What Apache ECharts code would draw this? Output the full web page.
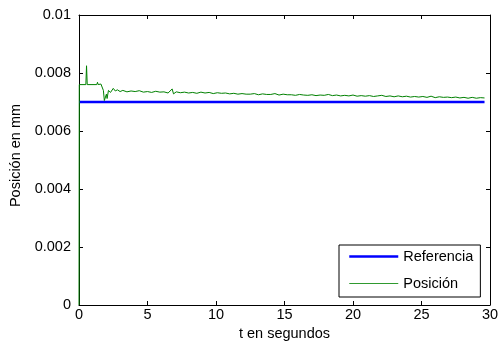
<!DOCTYPE html>
<html>
<head>
<meta charset="utf-8">
<script src="https://cdn.jsdelivr.net/npm/echarts@6/dist/echarts.min.js"></script>
<style>
  html, body { margin: 0; padding: 0; background: #fff; }
  #chart { width: 503px; height: 347px; }
</style>
</head>
<body>
<div id="chart"></div>
<script>
// referencia: constante
const refTimes = [0, 29.6];
const refValues = [0.007, 0.007];

const posTimes = [
  0, 0.02, 0.5, 0.55, 0.6, 1.3, 1.35, 1.4, 1.6, 1.7, 1.78, 1.85, 1.9, 1.95,
  2.0, 2.05, 2.15, 2.3, 2.5, 2.65, 2.8, 3.0,
  3.2, 3.5, 3.8, 4.1, 4.4, 4.7, 5.0, 5.3, 5.6, 5.9, 6.2, 6.5, 6.8, 6.9,
  7.1, 7.4, 7.7, 8.0, 8.3, 8.6, 8.9, 9.2, 9.5, 9.8, 10.1, 10.4, 10.7, 11.0,
  11.3, 11.6, 11.9, 12.2, 12.5, 12.8, 13.1, 13.4, 13.7, 14.0, 14.3, 14.6,
  14.9, 15.2, 15.5, 15.8, 16.1, 16.4, 16.7, 17.0, 17.3, 17.6, 17.9, 18.2,
  18.5, 18.8, 19.1, 19.4, 19.7, 20.0, 20.3, 20.6, 20.9, 21.2, 21.5, 21.8,
  22.1, 22.4, 22.7, 23.0, 23.3, 23.6, 23.9, 24.2, 24.5, 24.8, 25.1, 25.4,
  25.7, 26.0, 26.3, 26.6, 26.9, 27.2, 27.5, 27.8, 28.1, 28.4, 28.7, 29.0,
  29.3, 29.6
];
const posValues = [
  0, 0.0076, 0.0076, 0.00825, 0.0076, 0.0076, 0.00768, 0.0076, 0.00762, 0.0076, 0.0074, 0.00705, 0.00701, 0.0071,
  0.00727, 0.00712, 0.0074, 0.00733, 0.00747, 0.00738, 0.00742, 0.00736,
  0.0074, 0.00735, 0.00738, 0.00736, 0.00739, 0.00734, 0.00736, 0.00733, 0.00737, 0.00734, 0.00735, 0.00731, 0.00745, 0.00728,
  0.00735, 0.00732, 0.00734, 0.00731, 0.00733, 0.0073, 0.00734, 0.00731, 0.00733, 0.00729, 0.00732, 0.0073, 0.00731, 0.00728,
  0.0073, 0.00727, 0.00729, 0.00727, 0.00727, 0.00729, 0.00725, 0.00728, 0.00726, 0.00726, 0.00729, 0.00724,
  0.00727, 0.00725, 0.00725, 0.00723, 0.00726, 0.00724, 0.00723, 0.00725, 0.00722, 0.00724, 0.00723, 0.00726,
  0.00722, 0.00724, 0.00721, 0.00723, 0.00721, 0.00724, 0.0072, 0.00722, 0.0072, 0.00722, 0.00719, 0.00721,
  0.00723, 0.00719, 0.00721, 0.00718, 0.00721, 0.00718, 0.0072, 0.00717, 0.00719, 0.00717, 0.00719, 0.00716,
  0.0072, 0.00715, 0.00718, 0.00716, 0.00717, 0.00715, 0.00717, 0.00714, 0.00716, 0.00713, 0.00716, 0.00713,
  0.00715, 0.00714
];

const xTicks = [0, 5, 10, 15, 20, 25, 30];
const yTicks = [0, 0.002, 0.004, 0.006, 0.008, 0.01];

const font = 'Liberation Sans, Arial, sans-serif';
const fs = 14.5;

function pairs(xs, ys) {
  return xs.map((x, i) => [x, ys[i]]);
}

const chart = echarts.init(document.getElementById('chart'), null, { renderer: 'canvas' });

const boxAxis = {
  show: true,
  axisLine: { show: true, onZero: false, lineStyle: { color: '#000', width: 1 } },
  axisTick: { show: true, inside: true, length: 4, lineStyle: { color: '#000' } },
  axisLabel: { show: false },
  splitLine: { show: false }
};

const option = {
  backgroundColor: '#fff',
  animation: false,
  grid: { left: 79, right: 13, top: 15, bottom: 42 },
  legend: {
    orient: 'vertical',
    left: 339,
    top: 245,
    padding: [4, 7, 6, 9],
    itemWidth: 49,
    itemHeight: 14,
    itemGap: 12,
    borderColor: '#000',
    borderWidth: 1,
    backgroundColor: '#fff',
    itemStyle: { opacity: 0 },
    textStyle: { fontFamily: font, fontSize: fs, color: '#000' },
    data: [
      { name: 'Referencia', lineStyle: { width: 2.5, color: '#0000ff' } },
      { name: 'Posición', lineStyle: { width: 1.2, color: '#2f9a2f' } }
    ]
  },
  xAxis: [
    {
      type: 'value',
      min: xTicks[0],
      max: xTicks[xTicks.length - 1],
      interval: 5,
      name: 't en segundos',
      nameLocation: 'middle',
      nameGap: 17,
      nameTextStyle: { fontFamily: font, fontSize: fs, color: '#000', verticalAlign: 'top' },
      axisLine: { show: true, onZero: false, lineStyle: { color: '#000', width: 1 } },
      axisTick: { show: true, inside: true, length: 4, lineStyle: { color: '#000' } },
      axisLabel: { fontFamily: font, fontSize: fs, color: '#000', margin: 2 },
      splitLine: { show: false }
    },
    Object.assign({ type: 'value', position: 'top', min: 0, max: 30, interval: 5 }, boxAxis)
  ],
  yAxis: [
    {
      type: 'value',
      min: yTicks[0],
      max: yTicks[yTicks.length - 1],
      interval: 0.002,
      name: 'Posición en mm',
      nameLocation: 'middle',
      nameGap: 46,
      nameTextStyle: { fontFamily: font, fontSize: fs, color: '#000', padding: [0, 0, 0, 9] },
      axisLine: { show: true, onZero: false, lineStyle: { color: '#000', width: 1 } },
      axisTick: { show: true, inside: true, length: 4, lineStyle: { color: '#000' } },
      axisLabel: {
        fontFamily: font, fontSize: fs, color: '#000', margin: 8,
        formatter: v => String(+v.toFixed(3))
      },
      splitLine: { show: false }
    },
    Object.assign({ type: 'value', position: 'right', min: 0, max: 0.01, interval: 0.002 }, boxAxis)
  ],
  series: [
    {
      name: 'Referencia',
      type: 'line',
      data: pairs(refTimes, refValues),
      symbol: 'none',
      color: '#0000ff',
      lineStyle: { color: '#0000ff', width: 2.5 },
      z: 2
    },
    {
      name: 'Posición',
      type: 'line',
      data: pairs(posTimes, posValues),
      symbol: 'none',
      color: '#008000',
      lineStyle: { color: '#008000', width: 1 },
      z: 3
    }
  ]
};

chart.setOption(option);
</script>
</body>
</html>
